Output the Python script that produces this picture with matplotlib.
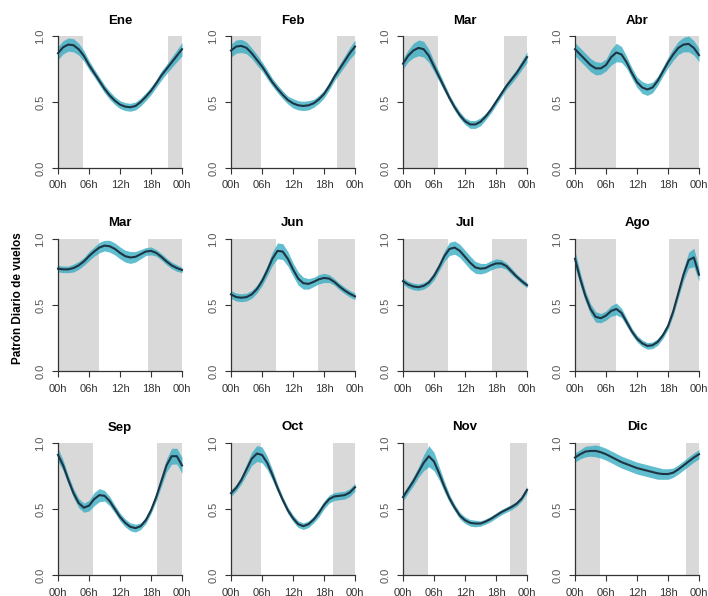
import matplotlib
matplotlib.use('Agg')
import matplotlib.pyplot as plt
import numpy as np

plt.rcParams['font.family'] = ['Liberation Sans', 'DejaVu Sans']

# 1. DATA (one value per hour 00h..24h)

hours = list(range(25))
titles = ['Ene', 'Feb', 'Mar', 'Abr', 'Mar', 'Jun', 'Jul', 'Ago', 'Sep', 'Oct', 'Nov', 'Dic']

# night shading: (end of morning block, start of evening block) in hours
night_end   = [4.8, 5.75, 6.8, 7.9, 7.9, 8.7, 8.8, 7.9, 6.8, 5.75, 4.8, 4.8]
night_start = [21.2, 20.6, 19.5, 18.1, 17.4, 16.9, 17.2, 18.1, 19.1, 19.7, 20.8, 21.4]

ene = [0.87, 0.915, 0.935, 0.93, 0.90, 0.85, 0.78, 0.72, 0.66, 0.60, 0.55, 0.51, 0.48,
       0.465, 0.46, 0.47, 0.50, 0.54, 0.585, 0.64, 0.70, 0.75, 0.80, 0.85, 0.90]
feb = [0.89, 0.92, 0.925, 0.91, 0.87, 0.82, 0.77, 0.71, 0.65, 0.60, 0.555, 0.515, 0.49,
       0.475, 0.47, 0.475, 0.49, 0.52, 0.56, 0.62, 0.69, 0.75, 0.81, 0.87, 0.92]
mar = [0.79, 0.85, 0.89, 0.91, 0.90, 0.85, 0.77, 0.69, 0.61, 0.53, 0.46, 0.40, 0.355,
       0.33, 0.33, 0.35, 0.39, 0.44, 0.50, 0.56, 0.62, 0.67, 0.72, 0.78, 0.84]
abr = [0.90, 0.86, 0.82, 0.78, 0.755, 0.755, 0.78, 0.84, 0.875, 0.86, 0.80, 0.72, 0.65,
       0.61, 0.595, 0.61, 0.66, 0.73, 0.80, 0.86, 0.91, 0.935, 0.94, 0.91, 0.855]
may = [0.775, 0.77, 0.77, 0.78, 0.80, 0.83, 0.87, 0.905, 0.935, 0.95, 0.945, 0.925, 0.895,
       0.87, 0.86, 0.865, 0.885, 0.905, 0.91, 0.895, 0.865, 0.83, 0.80, 0.78, 0.765]
jun = [0.58, 0.56, 0.555, 0.56, 0.58, 0.62, 0.68, 0.76, 0.85, 0.91, 0.905, 0.85, 0.77,
       0.70, 0.665, 0.66, 0.675, 0.695, 0.705, 0.70, 0.675, 0.64, 0.61, 0.585, 0.565]
jul = [0.68, 0.655, 0.64, 0.635, 0.645, 0.67, 0.72, 0.79, 0.87, 0.925, 0.935, 0.91, 0.865,
       0.82, 0.785, 0.775, 0.78, 0.80, 0.815, 0.815, 0.795, 0.755, 0.715, 0.68, 0.65]
ago = [0.85, 0.70, 0.57, 0.47, 0.41, 0.40, 0.42, 0.455, 0.47, 0.44, 0.37, 0.30, 0.245,
       0.21, 0.19, 0.195, 0.22, 0.27, 0.34, 0.45, 0.59, 0.73, 0.84, 0.86, 0.73]
sep = [0.91, 0.83, 0.72, 0.62, 0.545, 0.51, 0.525, 0.575, 0.605, 0.60, 0.56, 0.50, 0.44,
       0.395, 0.365, 0.355, 0.37, 0.415, 0.49, 0.59, 0.71, 0.83, 0.90, 0.90, 0.83]
octu = [0.62, 0.66, 0.72, 0.80, 0.88, 0.92, 0.91, 0.85, 0.76, 0.66, 0.57, 0.49, 0.43,
        0.385, 0.37, 0.385, 0.42, 0.47, 0.53, 0.575, 0.595, 0.60, 0.605, 0.625, 0.665]
nov = [0.59, 0.65, 0.71, 0.78, 0.85, 0.90, 0.86, 0.77, 0.67, 0.58, 0.51, 0.45, 0.415,
       0.395, 0.39, 0.39, 0.405, 0.425, 0.45, 0.475, 0.495, 0.515, 0.54, 0.58, 0.645]
dic = [0.89, 0.915, 0.935, 0.94, 0.94, 0.93, 0.915, 0.895, 0.875, 0.855, 0.84, 0.825, 0.81,
       0.80, 0.79, 0.78, 0.77, 0.765, 0.765, 0.775, 0.80, 0.83, 0.86, 0.89, 0.915]

# band half-widths
w_ene = [0.05, 0.05, 0.05, 0.05, 0.045, 0.04, 0.035, 0.03, 0.03, 0.03, 0.03, 0.03, 0.03,
         0.03, 0.03, 0.03, 0.03, 0.03, 0.03, 0.03, 0.035, 0.035, 0.04, 0.045, 0.05]
w_feb = [0.05, 0.05, 0.05, 0.045, 0.04, 0.04, 0.035, 0.035, 0.03, 0.03, 0.03, 0.03, 0.035,
         0.035, 0.035, 0.035, 0.03, 0.03, 0.03, 0.03, 0.03, 0.035, 0.04, 0.045, 0.05]
w_mar = [0.04, 0.045, 0.055, 0.06, 0.06, 0.05, 0.04, 0.035, 0.03, 0.025, 0.025, 0.025, 0.025,
         0.03, 0.03, 0.03, 0.025, 0.025, 0.025, 0.025, 0.025, 0.03, 0.03, 0.035, 0.04]
w_abr = [0.05, 0.05, 0.05, 0.05, 0.05, 0.045, 0.045, 0.06, 0.07, 0.06, 0.045, 0.04, 0.04,
         0.045, 0.045, 0.04, 0.035, 0.035, 0.04, 0.045, 0.05, 0.055, 0.06, 0.055, 0.05]
w_may = [0.025, 0.025, 0.025, 0.03, 0.03, 0.03, 0.035, 0.035, 0.04, 0.04, 0.045, 0.045, 0.045,
         0.045, 0.045, 0.04, 0.035, 0.03, 0.03, 0.025, 0.025, 0.025, 0.025, 0.025, 0.02]
w_jun = [0.03, 0.03, 0.03, 0.03, 0.03, 0.03, 0.035, 0.04, 0.05, 0.06, 0.06, 0.055, 0.05,
         0.05, 0.045, 0.04, 0.035, 0.035, 0.035, 0.03, 0.025, 0.025, 0.025, 0.025, 0.025]
w_jul = [0.025, 0.025, 0.025, 0.025, 0.025, 0.025, 0.03, 0.03, 0.04, 0.05, 0.05, 0.05, 0.05,
         0.05, 0.045, 0.04, 0.035, 0.035, 0.035, 0.03, 0.025, 0.025, 0.02, 0.02, 0.02]
w_ago = [0.06, 0.05, 0.04, 0.04, 0.04, 0.035, 0.035, 0.04, 0.045, 0.035, 0.03, 0.025, 0.025,
         0.025, 0.025, 0.025, 0.025, 0.025, 0.025, 0.03, 0.035, 0.045, 0.06, 0.07, 0.05]
w_sep = [0.05, 0.04, 0.035, 0.035, 0.035, 0.035, 0.04, 0.05, 0.05, 0.04, 0.035, 0.03, 0.03,
         0.03, 0.03, 0.03, 0.025, 0.025, 0.025, 0.03, 0.04, 0.05, 0.06, 0.06, 0.06]
w_oct = [0.025, 0.025, 0.03, 0.04, 0.05, 0.06, 0.06, 0.05, 0.04, 0.03, 0.025, 0.025, 0.025,
         0.025, 0.025, 0.025, 0.025, 0.03, 0.03, 0.03, 0.03, 0.03, 0.03, 0.03, 0.03]
w_nov = [0.03, 0.03, 0.035, 0.04, 0.06, 0.08, 0.07, 0.05, 0.04, 0.03, 0.025, 0.025, 0.025,
         0.025, 0.025, 0.02, 0.02, 0.02, 0.02, 0.02, 0.02, 0.02, 0.02, 0.02, 0.025]
w_dic = [0.035, 0.035, 0.04, 0.04, 0.045, 0.045, 0.045, 0.045, 0.045, 0.045, 0.045, 0.045, 0.045,
         0.045, 0.045, 0.045, 0.045, 0.04, 0.04, 0.035, 0.035, 0.035, 0.035, 0.035, 0.035]

curves = [ene, feb, mar, abr, may, jun, jul, ago, sep, octu, nov, dic]
widths = [w_ene, w_feb, w_mar, w_abr, w_may, w_jun, w_jul, w_ago, w_sep, w_oct, w_nov, w_dic]

xticks = [0, 6, 12, 18, 24]
xticklabels = ['00h', '06h', '12h', '18h', '00h']
yticks = [0.0, 0.5, 1.0]


# 2. PLOT

W, H = 708, 596
fig = plt.figure(figsize=(W / 100, H / 100), dpi=100)

col_left = [58, 231, 403, 575]
row_top = [36, 239, 443]
ax_w, ax_h = 124, 132

for i in range(12):
    r, c = divmod(i, 4)
    ax = fig.add_axes([col_left[c] / W, 1 - (row_top[r] + ax_h) / H, ax_w / W, ax_h / H])
    y = np.array(curves[i])
    w = np.array(widths[i])

    ax.axvspan(0, night_end[i], ymin=0, ymax=1, color='#d9d9d9', lw=0, zorder=0)
    ax.axvspan(night_start[i], 24, ymin=0, ymax=1, color='#d9d9d9', lw=0, zorder=0)
    ax.fill_between(hours, y - w, y + w, color='#3aaec2', alpha=0.8, lw=0, zorder=2, clip_on=False)
    ax.plot(hours, y, color='#1e3445', lw=1.5, zorder=3, clip_on=False)

    ax.set_xlim(0, 24)
    ax.set_ylim(0, 1)
    for s in ['top', 'right']:
        ax.spines[s].set_visible(False)
    for s in ['left', 'bottom']:
        ax.spines[s].set_color('#333333')
        ax.spines[s].set_linewidth(0.9)

    ax.set_xticks(xticks)
    ax.set_xticklabels(xticklabels, fontsize=8, color='#333333')
    ax.set_yticks(yticks)
    ax.set_yticklabels(['0.0', '0.5', '1.0'], fontsize=8, color='#555555',
                       rotation=90, va='center')
    ax.tick_params(length=4, width=0.8, color='#333333', pad=5)
    ax.set_title(titles[i], fontsize=9.5, fontweight='bold', pad=9)

fig.text(18 / W, 0.5, 'Patrón Diario de vuelos', rotation=90, ha='center', va='center',
         fontsize=8.5, fontweight='bold')

plt.savefig('out.png', dpi=100)
plt.close()
